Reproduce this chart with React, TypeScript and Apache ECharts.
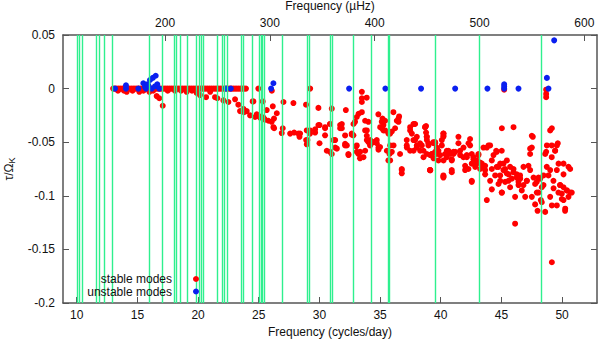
import React, { useEffect, useRef } from "react";
import * as echarts from "echarts";

// Frequencies (cycles/day) of the green vertical lines
const greenLines: number[] = [
  10.07, 10.21, 10.44, 11.59, 11.86, 12.28, 12.95, 16.0, 17.03, 18.06, 18.19, 18.57,
  19.07, 19.83, 20.12, 20.29, 20.44, 21.57, 22.02, 22.14, 22.37, 23.59, 23.73, 24.43,
  25.03, 25.17, 25.3, 25.47, 26.9, 28.96, 29.15, 30.88, 31.02, 32.8, 34.26, 35.64,
  35.75, 39.54, 43.19, 48.25,
];

// Stable modes lying on tau = 0
const stableZeroX: number[] = [
  13.0, 13.15, 13.3, 13.45, 13.6, 13.75, 13.9, 14.05, 14.2, 14.35, 14.5, 14.65, 14.8,
  14.95, 15.1, 15.25, 15.4, 15.55, 15.7, 15.85, 16.0, 16.15, 16.3, 16.45, 16.6, 16.75,
  16.9, 17.05, 17.2, 17.35, 17.5, 17.65, 17.8, 17.95, 18.1, 18.25, 18.4, 18.55, 18.7,
  18.85, 19.0, 19.15, 19.3, 19.45, 19.6, 19.75, 19.9, 20.05, 20.2, 20.35, 20.5, 20.65,
  20.8, 20.95, 21.1, 21.25, 21.4, 21.55, 21.7, 21.85, 22.0, 22.15, 22.3, 22.45, 22.6,
  22.75, 22.9, 23.05, 23.2, 23.35, 23.5, 23.65, 23.8, 23.95, 24.97, 29.24,
];

// Stable modes, low frequencies (x, tau/Omega_K)
const stableLow: [number, number][] = [
  [13.4, -0.002], [13.9, -0.002], [14.12, -0.003], [14.6, -0.002], [15.16, -0.003], [15.5, -0.002],
  [15.99, -0.003], [16.3, -0.002], [16.59, -0.007], [16.81, -0.009], [17.09, -0.016], [17.5, -0.002],
  [18.1, -0.002], [18.6, -0.002], [19.06, -0.003], [19.5, -0.002], [19.89, -0.004], [20.16, -0.006],
  [20.66, -0.008], [21.0, -0.003], [21.4, -0.008], [21.59, -0.009], [22.09, -0.011], [22.5, -0.0125],
  [23.05, -0.01], [23.32, -0.015], [23.46, -0.021], [23.74, -0.019], [23.79, -0.022], [24.01, -0.021],
  [24.29, -0.025], [24.5, -0.012], [24.56, -0.012], [24.7, -0.0265], [24.84, -0.024], [25.06, -0.026],
  [25.11, -0.027], [25.33, -0.012], [25.39, -0.027], [25.52, -0.029], [25.66, -0.02], [25.8, -0.03],
  [26.07, -0.031], [26.08, -0.002], [26.16, -0.0165], [26.21, -0.036], [26.26, -0.028], [26.27, -0.037],
  [26.49, -0.023], [26.9, -0.0415], [26.98, -0.037], [27.04, -0.0125], [27.59, -0.042], [27.86, -0.0135],
  [27.92, -0.041], [28.27, -0.042], [28.36, -0.045],
];

// Stable modes, middle frequencies
const stableMid: [number, number][] = [
  [28.9, -0.015], [28.91, -0.048], [28.96, -0.052], [29.18, -0.04], [29.23, -0.039], [29.65, -0.041],
  [29.92, -0.018], [30.01, -0.034], [30.01, -0.051], [30.47, -0.037], [30.47, -0.0436], [30.61, -0.058],
  [30.88, -0.033], [30.88, -0.059], [31.02, -0.0187], [31.02, -0.061], [31.3, -0.048], [31.3, -0.055],
  [31.44, -0.056], [31.71, -0.034], [31.85, -0.037], [32.12, -0.0437], [32.12, -0.0515], [32.18, -0.02],
  [32.26, -0.053], [32.4, -0.062], [32.67, -0.042], [32.8, -0.0436], [33.03, -0.054], [33.08, -0.0265],
  [33.08, -0.059], [33.23, -0.0235], [33.35, -0.065], [33.5, -0.003], [33.5, -0.009], [33.5, -0.0125],
  [33.5, -0.022], [33.63, -0.064], [33.77, -0.03], [33.77, -0.058], [33.9, -0.0085], [33.91, -0.039],
  [33.91, -0.044], [34.05, -0.05], [34.18, -0.048], [34.46, -0.05], [34.73, -0.051], [34.86, -0.024],
  [34.87, -0.057], [35.0, -0.0545], [35.14, -0.037], [35.2, -0.028], [35.28, -0.034], [35.42, -0.039],
  [35.56, -0.058], [35.69, -0.067], [35.78, -0.061], [35.83, -0.042], [35.97, -0.04], [36.11, -0.053],
  [36.1, -0.022], [36.38, -0.03], [36.52, -0.028], [36.57, -0.026], [36.79, -0.076], [36.79, -0.079],
  [37.2, -0.048], [37.21, -0.055], [37.48, -0.039], [37.75, -0.048], [37.81, -0.033], [37.89, -0.033],
  [38.03, -0.045], [39.13, -0.0763], [40.22, -0.081],
  [28.41, -0.042], [28.96, -0.039], [29.01, -0.048], [29.23, -0.042], [29.65, -0.038], [29.92, -0.034],
  [30.47, -0.036], [30.88, -0.033], [31.16, -0.048], [31.71, -0.037], [31.85, -0.033], [32.12, -0.053],
  [32.39, -0.061], [32.67, -0.043], [32.81, -0.033], [32.94, -0.031], [33.08, -0.053], [33.22, -0.061],
  [33.36, -0.059], [33.77, -0.039], [33.91, -0.048], [34.04, -0.031], [34.18, -0.053], [34.46, -0.05],
  [34.73, -0.048], [34.87, -0.055], [35.01, -0.036], [35.14, -0.031], [35.28, -0.039], [35.42, -0.03],
  [35.69, -0.042], [35.83, -0.053], [35.83, -0.067], [35.97, -0.059], [36.24, -0.037], [36.52, -0.031],
  [36.65, -0.061], [36.79, -0.075], [37.2, -0.053], [37.48, -0.036], [37.62, -0.042], [37.75, -0.033],
  [37.89, -0.048], [38.03, -0.053], [38.3, -0.051], [38.58, -0.064], [38.71, -0.036], [38.85, -0.045],
  [38.99, -0.053], [39.13, -0.076], [39.26, -0.061], [39.4, -0.05], [39.54, -0.051], [39.68, -0.056],
  [39.81, -0.067], [40.09, -0.048], [40.23, -0.044], [40.36, -0.061], [40.5, -0.064], [40.64, -0.058],
  [40.91, -0.067], [40.91, -0.078], [41.05, -0.061], [41.19, -0.059], [41.46, -0.045], [41.6, -0.062],
  [41.88, -0.055], [42.01, -0.076], [42.15, -0.064], [42.29, -0.051], [42.42, -0.047],
  [37.48, -0.058], [37.76, -0.058], [38.03, -0.055], [38.31, -0.058], [38.58, -0.058], [38.86, -0.061],
  [39.13, -0.062], [39.41, -0.065], [39.68, -0.061], [39.95, -0.062], [40.23, -0.067], [40.5, -0.061],
  [38.72, -0.036], [38.86, -0.048], [39.13, -0.076], [39.54, -0.05], [39.68, -0.055], [40.23, -0.042],
  [40.23, -0.082],
];

// Stable modes, high frequencies
const stableHigh: [number, number][] = [
  [42.56, -0.07], [42.56, -0.087], [42.7, -0.064], [42.84, -0.073], [42.97, -0.067], [43.11, -0.061],
  [43.25, -0.075], [43.39, -0.07], [43.52, -0.055], [43.66, -0.072], [43.66, -0.08], [43.8, -0.104],
  [43.94, -0.053], [44.07, -0.086], [44.21, -0.075], [44.21, -0.094], [44.35, -0.062], [44.49, -0.081],
  [44.62, -0.059], [44.62, -0.073], [44.76, -0.089], [44.9, -0.07], [44.9, -0.086], [45.04, -0.037],
  [45.04, -0.097], [45.17, -0.076], [45.31, -0.087], [45.45, -0.067], [45.59, -0.08], [45.72, -0.092],
  [45.86, -0.084], [46.0, -0.036], [46.0, -0.075], [46.13, -0.101], [46.13, -0.126], [46.27, -0.08],
  [46.41, -0.087], [46.55, -0.084], [46.68, -0.095], [46.82, -0.09], [46.96, -0.101], [47.1, -0.086],
  [47.23, -0.072], [47.37, -0.056], [47.37, -0.061], [47.51, -0.044], [47.51, -0.101], [47.65, -0.083],
  [47.78, -0.108], [47.92, -0.087], [47.98, -0.114], [48.06, -0.097], [48.2, -0.084], [48.33, -0.106],
  [48.47, -0.09], [48.61, -0.061], [48.61, -0.115], [48.75, -0.053], [48.88, -0.081], [49.02, -0.076],
  [49.02, -0.101], [49.16, -0.037], [49.16, -0.109], [49.3, -0.093], [49.43, -0.058], [49.57, -0.109],
  [49.57, -0.053], [49.71, -0.07], [49.84, -0.09], [49.98, -0.098], [50.12, -0.08], [50.12, -0.104],
  [50.26, -0.112], [50.39, -0.095], [50.53, -0.073], [50.67, -0.097], [49.16, -0.162],
  [38.79, -0.035], [38.79, -0.041], [38.85, -0.045], [38.44, -0.053], [38.99, -0.051], [39.4, -0.051],
  [39.26, -0.061], [39.54, -0.059], [39.81, -0.058], [40.22, -0.042], [40.22, -0.045], [40.09, -0.053],
  [40.5, -0.058], [40.77, -0.061], [40.91, -0.066], [41.05, -0.059], [41.46, -0.051], [41.6, -0.058],
  [41.87, -0.064], [42.15, -0.062], [42.42, -0.053], [42.56, -0.061], [42.7, -0.066], [42.01, -0.072],
  [42.28, -0.075], [42.97, -0.07], [43.11, -0.062], [43.25, -0.069], [43.38, -0.073], [43.66, -0.076],
  [43.8, -0.055], [44.07, -0.053], [44.21, -0.067], [44.57, -0.058], [44.76, -0.073], [44.9, -0.081],
  [45.03, -0.058], [45.17, -0.07], [45.31, -0.075], [45.44, -0.079], [45.58, -0.086], [45.72, -0.073],
  [45.99, -0.078], [46.27, -0.083], [46.41, -0.09], [46.54, -0.081], [46.82, -0.073], [47.09, -0.086],
  [47.37, -0.076], [47.51, -0.055], [47.59, -0.045], [47.78, -0.089], [47.92, -0.097], [48.06, -0.083],
  [48.25, -0.104], [48.33, -0.092], [48.47, -0.081], [48.69, -0.059], [48.74, -0.073], [49.02, -0.039],
  [49.15, -0.053], [49.15, -0.064], [49.29, -0.086], [49.43, -0.058], [49.57, -0.076], [49.65, -0.051],
  [49.7, -0.097], [49.84, -0.09], [49.98, -0.103], [50.12, -0.07], [50.12, -0.092], [50.25, -0.114],
  [50.39, -0.095], [50.53, -0.101], [50.67, -0.075], [50.8, -0.097], [45.03, -0.097], [42.56, -0.086],
  [40.22, -0.083], [39.12, -0.076], [40.91, -0.076],
  [45.23, -0.001], [48.69, -0.001], [48.69, -0.005], [48.69, -0.008],
];

// Unstable modes
const unstable: [number, number][] = [
  [13.16, 0], [14.06, 0], [14.06, 0.003], [15.08, 0], [15.49, 0.005], [15.63, 0.0015], [15.71, 0],
  [15.82, 0.004], [15.9, 0.003], [16.04, 0.008], [16.18, 0], [16.27, 0.01], [16.45, 0.002],
  [16.51, 0.012], [16.64, 0.004], [16.81, 0], [22.31, 0], [22.7, 0], [26.02, 0], [26.21, 0.005],
  [32.45, 0], [35.44, 0], [38.38, 0], [41.19, 0], [43.85, 0], [45.23, 0], [45.23, 0.002],
  [45.23, 0.004], [46.41, 0], [48.75, 0.01], [48.88, 0], [49.35, 0.045],
];

const bottomTicks: number[] = [10, 15, 20, 25, 30, 35, 40, 45, 50];
const topTicksMicroHz: number[] = [200, 300, 400, 500, 600];
const X_MIN = 8.87;
const X_MAX = 52.88;
const CD_TO_UHZ = 1e6 / 86400;

const FONT = "Liberation Sans, Arial, Helvetica, sans-serif";
const AXIS_COLOR = "#555";
const RED = "#ff0000";
const BLUE = "#0a1ff0";

export default function App() {
  const ref = useRef<HTMLDivElement>(null);

  useEffect(() => {
    if (!ref.current) return;
    const chart = echarts.init(ref.current, undefined, { renderer: "svg" });

    const stable: [number, number][] = [
      ...stableZeroX.map((x) => [x, 0] as [number, number]),
      ...stableLow,
      ...stableMid,
      ...stableHigh,
    ];

    const axisLine = { show: true, onZero: false, lineStyle: { color: AXIS_COLOR, width: 1.5 } };
    const labelStyle = { color: "#111", fontSize: 12, fontFamily: FONT };

    chart.setOption({
      animation: false,
      backgroundColor: "#fff",
      grid: { left: 63, right: 1, top: 35, bottom: 37, containLabel: false, outerBoundsMode: "none" },
      xAxis: [
        {
          type: "value",
          position: "bottom",
          min: X_MIN,
          max: X_MAX,
          name: "Frequency (cycles/day)",
          nameLocation: "middle",
          nameGap: 22,
          nameTextStyle: { color: "#111", fontSize: 12, fontFamily: FONT },
          axisLine,
          axisTick: { show: true, inside: true, length: 6, customValues: bottomTicks, lineStyle: { color: AXIS_COLOR } },
          axisLabel: { ...labelStyle, margin: 6, customValues: bottomTicks },
          splitLine: { show: false },
        },
        {
          type: "value",
          position: "top",
          min: X_MIN * CD_TO_UHZ,
          max: X_MAX * CD_TO_UHZ,
          name: "Frequency (µHz)",
          nameLocation: "middle",
          nameGap: 22,
          nameTextStyle: { color: "#111", fontSize: 12, fontFamily: FONT },
          axisLine,
          axisTick: { show: true, inside: true, length: 6, customValues: topTicksMicroHz, lineStyle: { color: AXIS_COLOR } },
          axisLabel: { ...labelStyle, margin: 6, customValues: topTicksMicroHz },
          splitLine: { show: false },
        },
      ],
      yAxis: [
        {
          type: "value",
          position: "left",
          min: -0.2,
          max: 0.05,
          interval: 0.05,
          name: "{a|τ/Ω}{b|K}",
          nameLocation: "middle",
          nameRotate: 90,
          nameGap: 45,
          nameTextStyle: {
            color: "#111",
            fontFamily: FONT,
            rich: {
              a: { fontSize: 12, fontFamily: FONT, color: "#111", lineHeight: 16, verticalAlign: "middle" },
              b: { fontSize: 9, fontFamily: FONT, color: "#111", lineHeight: 16, verticalAlign: "bottom", padding: [6, 0, 0, 0] },
            },
          },
          axisLine,
          axisTick: { show: true, inside: true, length: 6, lineStyle: { color: AXIS_COLOR } },
          axisLabel: {
            ...labelStyle,
            margin: 8,
            formatter: (v: number) => String(parseFloat(v.toFixed(2))),
          },
          splitLine: { show: false },
        },
        {
          type: "value",
          position: "right",
          min: -0.2,
          max: 0.05,
          interval: 0.05,
          axisLine,
          axisTick: { show: true, inside: true, length: 6, lineStyle: { color: AXIS_COLOR } },
          axisLabel: { show: false },
          splitLine: { show: false },
        },
      ],
      series: [
        {
          name: "lines",
          type: "scatter",
          data: [],
          z: 1,
          silent: true,
          markLine: {
            silent: true,
            symbol: ["none", "none"],
            label: { show: false },
            lineStyle: { color: "#2ef08e", width: 1.4, type: "solid", opacity: 1 },
            emphasis: { disabled: true },
            data: greenLines.map((v) => ({ xAxis: v })),
          },
        },
        {
          name: "stable modes",
          type: "scatter",
          data: stable,
          symbol: "circle",
          symbolSize: 6,
          itemStyle: { color: RED, opacity: 1 },
          z: 3,
        },
        {
          name: "unstable modes",
          type: "scatter",
          data: unstable,
          symbol: "circle",
          symbolSize: 6,
          itemStyle: { color: BLUE, opacity: 1 },
          z: 4,
        },
      ],
      graphic: [
        {
          type: "text",
          x: 172,
          y: 279,
          style: { text: "stable modes", align: "right", verticalAlign: "middle", fontSize: 12, fontFamily: FONT, fill: "#111" },
          z: 10,
        },
        {
          type: "text",
          x: 172,
          y: 291.5,
          style: { text: "unstable modes", align: "right", verticalAlign: "middle", fontSize: 12, fontFamily: FONT, fill: "#111" },
          z: 10,
        },
        { type: "circle", shape: { cx: 196, cy: 279, r: 3 }, style: { fill: RED }, z: 10 },
        { type: "circle", shape: { cx: 196, cy: 291.5, r: 3 }, style: { fill: BLUE }, z: 10 },
      ],
    });

    return () => chart.dispose();
  }, []);

  return (
    <div
      ref={ref}
      style={{ position: "fixed", left: 0, top: 0, width: 598, height: 340, background: "#fff" }}
    />
  );
}
